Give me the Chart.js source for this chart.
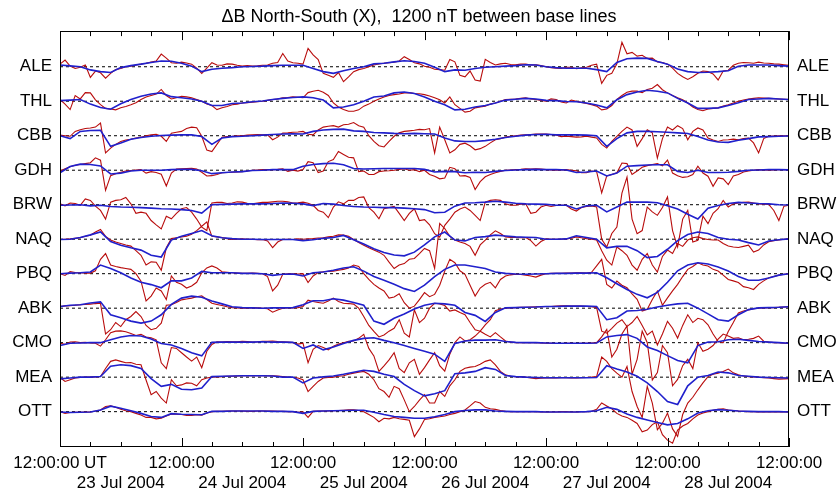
<!DOCTYPE html>
<html>
<head>
<meta charset="utf-8">
<script src="https://cdn.jsdelivr.net/npm/chart.js@4.4.1/dist/chart.umd.min.js"></script>
<style>
  html,body{margin:0;padding:0;background:#fff}
  #wrap{width:838px;height:493px}
</style>
</head>
<body>
<div id="wrap"><canvas id="chart" width="838" height="493"></canvas></div>
<script>
// stations, top to bottom; 1200 nT between base lines
const stations = ['ALE','THL','CBB','GDH','BRW','NAQ','PBQ','ABK','CMO','MEA','OTT'];
const spacing = 1200;

// hours since 22 Jul 2004 12:00 UT; observed read every hour, model every 2 h
const obsHours = Array.from({length:145}, (_,i) => i);
const modelHours = Array.from({length:73}, (_,i) => i*2);

// x ticks every 12 h, labels
const tickHours = [0,12,24,36,48,60,72,84,96,108,120,132,144];
const tickLabels = ['12:00:00 UT', ['', '23 Jul 2004'], '12:00:00', ['', '24 Jul 2004'], '12:00:00',
  ['', '25 Jul 2004'], '12:00:00', ['', '26 Jul 2004'], '12:00:00', ['', '27 Jul 2004'], '12:00:00',
  ['', '28 Jul 2004'], '12:00:00'];
const markHours = [0,6,12,18,24,30,36,42,48,54,60,66,72,78,84,90,96,102,108,114,120,126,132,138,144];

// observed dX (nT), red
const aleObs = [90,230,20,-60,-20,60,-370,-150,-210,-400,-230,-100,-60,0,20,60,90,120,160,200,
  440,300,140,120,160,130,90,-50,-230,-50,140,60,50,100,90,50,20,40,20,30,50,60,120,150,460,200,140,120,
  90,640,410,250,-230,-300,-370,-200,-520,-350,-170,-100,-60,0,60,100,120,140,160,200,
  350,250,140,100,20,-20,-90,-100,-120,250,170,-300,-350,-150,-460,-500,260,150,60,100,120,80,70,90,90,60,70,40,
  0,-30,-50,-60,-20,-20,-70,-40,-20,50,90,-580,-300,-230,100,850,450,500,370,400,
  290,300,170,150,90,-50,-230,-350,-440,-350,-230,-150,-170,-250,-460,-150,-120,50,120,150,140,120,160,130,120,100,90,70,50];
const thlObs = [60,-100,-290,200,80,300,290,50,-120,-250,-270,-300,-230,-180,-120,-50,60,150,200,250,
  410,200,80,120,170,150,120,60,0,-100,-150,-290,-230,-180,-120,-100,-60,-50,-30,-20,0,30,60,80,120,130,150,140,
  120,300,350,380,310,200,-60,-200,-290,-350,-350,-300,-170,-100,0,80,150,200,230,250,
  290,300,270,260,230,180,120,50,-60,150,-120,-250,-380,-350,-230,-200,-170,-100,-60,0,60,70,80,100,120,80,60,30,
  0,80,60,-30,-60,40,0,-40,-80,-120,-170,-300,-270,-150,60,200,310,350,350,300,
  410,450,580,400,290,200,120,50,-60,-200,-290,-330,-270,-250,-230,-170,-120,-60,0,40,80,100,120,110,100,90,80,70,60];
const cbbObs = [20,0,-20,150,210,250,270,300,440,-600,-430,-300,-200,-150,-120,-80,-50,0,30,50,
  -20,-200,90,120,150,250,300,280,-20,-500,-550,-300,-50,-30,-20,0,0,20,30,40,30,30,-140,-50,90,100,120,130,
  150,50,30,200,300,330,350,300,380,400,460,350,300,0,-200,-350,-390,-200,-20,100,
  150,170,190,220,210,250,-600,300,-140,-600,-490,-300,-260,-350,-490,-450,-370,-250,-140,-100,-50,-20,0,20,30,40,60,60,
  60,40,30,-30,-20,-30,-50,-40,-20,-50,-80,-300,-430,-200,-20,150,300,200,-370,-100,
  210,100,-780,-100,300,200,350,250,-140,150,270,200,-80,-150,-200,-150,-140,-120,-140,-100,-80,-250,-600,-100,-20,-10,0,0,0];
const gdhObs = [-30,50,120,170,200,230,260,430,350,-700,-190,-120,-70,-30,-10,10,20,-100,-50,-80,
  -140,-550,-100,40,50,60,70,40,-70,-200,-190,-150,-90,-80,-70,-60,-50,-30,0,10,20,20,20,30,50,-40,0,-30,
  20,300,260,-80,-30,300,370,650,550,450,430,-50,-30,-150,-150,-50,-30,-20,0,30,
  50,0,20,-50,0,-150,-210,-300,-270,100,50,-200,-190,-250,-670,-400,-230,-150,-90,-40,0,10,20,30,50,40,50,40,
  20,10,0,10,20,0,-20,-90,-90,-30,-50,-790,-200,-150,-90,250,230,-150,-30,100,
  160,200,230,150,350,-100,-190,-250,-230,-150,140,-100,-210,-560,-270,-300,-500,-200,-150,-60,-30,0,20,10,0,10,20,20,20];
const brwObs = [30,-40,60,40,-20,200,150,-50,-200,-500,90,150,170,250,30,-300,-260,-300,-550,-700,
  -840,-400,-490,-300,-140,-100,-260,-500,-780,-900,60,80,80,40,60,100,90,50,30,60,80,80,100,120,120,100,60,70,
  90,50,-20,-200,-260,-450,-80,100,30,150,150,250,270,-100,-260,-490,-140,-100,-60,-300,
  -550,-300,-140,-550,-520,-700,-1010,-1130,-720,-500,-260,-150,-80,-200,-370,-550,90,150,170,150,30,-20,-20,20,30,-300,-260,-80,
  -20,-60,-30,-20,-20,-150,-220,-100,-60,-40,-80,-1200,-1470,-1000,-780,400,960,-500,-1010,-900,
  -80,-250,-370,-100,270,-900,-1470,-500,-200,-1300,-1240,-400,-660,-300,-140,150,-80,30,60,80,90,60,30,20,10,-200,-550,-50,-20];
const naqObs = [-10,0,10,30,50,100,140,250,340,100,-30,-100,-150,-200,-240,-400,-560,-900,-790,-800,
  -1080,-300,20,50,80,100,170,300,450,600,100,80,60,20,-10,0,10,0,0,-20,-10,-60,-290,-100,-10,0,-10,10,
  0,10,20,40,50,80,100,150,140,100,-10,-120,-210,-300,-380,-450,-560,-800,-1020,-900,
  -850,-700,-670,-500,-320,-400,-1020,550,370,100,-30,-100,-150,-250,-560,-200,-30,150,290,200,80,60,60,50,60,-50,-240,-80,
  10,0,0,0,10,30,80,50,20,0,-30,-400,-730,-900,-270,-400,-560,-900,-1080,-700,
  -500,-900,-1140,-600,-380,-500,-150,-250,-30,50,80,20,-10,-30,-30,-150,-240,-270,-290,-250,-210,-450,-380,-200,-90,-50,-30,0,10];
const pbqObs = [0,-60,70,40,30,20,20,100,500,700,300,250,210,180,150,0,-260,-950,-780,-500,
  -600,-900,-80,-300,-370,-500,-430,-300,30,200,270,200,70,50,30,20,10,10,20,10,0,-100,-600,-400,-20,0,0,-10,
  0,-310,-80,40,70,80,90,120,150,200,300,250,0,-200,-370,-500,-600,-850,-810,-700,
  -1010,-1200,-1130,-900,-660,-800,-720,-400,90,500,380,100,-20,-400,-780,-500,-370,-300,-490,-200,-80,-40,-20,-30,-50,-80,-120,-50,
  0,10,10,10,20,20,30,30,20,50,270,500,-370,-500,-260,-400,-490,-700,-890,-1300,
  -1240,-900,-600,-1100,-840,-600,-370,-100,150,250,380,300,270,150,90,-50,-200,-250,-310,-450,-490,-550,-370,-250,-140,-100,-50,-20,0];
const abkObs = [60,80,90,100,120,130,140,160,170,-900,-750,-500,-640,-400,-290,-120,-290,-600,-750,-700,
  -520,100,120,200,290,320,350,400,430,300,170,130,90,50,20,10,0,0,10,10,0,-20,-140,-60,0,10,10,20,
  60,280,230,200,170,250,350,230,170,160,140,0,-290,-600,-810,-1000,-930,-800,-700,-400,
  -870,-1000,-60,-500,-350,0,170,150,90,-100,-60,-150,-230,-500,-750,-800,-580,-400,-90,-30,0,10,20,30,30,40,50,50,
  60,60,70,80,80,70,70,70,60,50,20,-800,-870,-700,-520,-400,-640,-500,-290,-600,
  -930,-800,-1280,-900,-460,-700,-1040,-600,-230,-500,-350,-400,-580,-900,-1160,-1200,-810,-500,-170,-100,-60,-20,0,10,20,20,30,40,50];
const cmoObs = [-20,-60,20,30,0,10,-10,-20,-120,100,350,400,410,380,320,250,290,200,170,100,
  -700,-900,-170,-200,-350,-500,-640,-500,-870,-300,-60,30,20,40,30,30,50,40,20,30,50,50,60,40,30,20,0,-50,
  -20,-700,-230,-100,-170,-250,-120,-50,0,50,60,150,290,-200,-460,-1000,-810,-600,-350,-900,
  -1040,-700,-580,-1100,-870,-600,-350,-800,-990,-400,0,200,60,100,230,400,290,200,350,200,60,20,0,0,0,0,0,-10,
  -20,-20,-30,-30,-20,-20,-30,-20,-20,-10,0,200,460,-500,-230,300,580,-1100,-580,400,
  0,-1300,-1040,-100,-350,-1500,-1280,-800,-580,-900,0,-300,-230,-100,120,300,230,150,170,100,120,150,230,50,20,0,0,-20,-20];
const meaObs = [-10,-150,-90,-30,-10,0,0,10,20,300,550,600,550,500,510,450,430,-100,-610,-500,
  -730,-900,-90,-300,-270,-200,-210,-300,-90,-30,0,10,20,30,30,40,50,50,50,50,60,50,50,40,20,0,-10,-30,
  -90,-500,-320,-150,-30,-10,0,30,50,100,140,170,200,100,-90,-400,-500,-700,-320,-400,
  -790,-1200,-1020,-800,-610,-900,-900,-500,-670,-300,-90,200,310,350,370,450,550,600,430,200,80,30,20,10,0,-30,-50,-40,
  -30,-30,-30,-20,-20,-30,-30,-20,-10,0,20,700,550,300,140,0,370,-500,-1020,-1400,
  -320,-900,-1830,-1600,-1250,-1800,-2060,-1300,-900,-700,-440,-200,20,100,140,200,280,150,80,40,20,10,0,-20,-30,-50,-70,-60,-50];
const ottObs = [0,-60,-30,-20,-20,-10,-10,20,60,180,200,150,80,30,0,-60,-120,-200,-200,-250,
  -230,-150,-80,-90,-100,-130,-130,-110,-120,-50,0,10,10,20,20,20,20,10,10,20,20,20,20,10,10,0,0,-20,
  -10,-200,10,20,20,20,30,40,50,60,60,40,0,-100,-200,-350,-230,-250,-200,-250,
  -270,-300,-870,-600,-270,-250,-200,-180,-150,-100,-60,0,60,200,350,300,150,100,80,40,10,0,0,0,0,0,0,-10,
  -10,-10,-10,0,0,-10,-10,0,0,10,80,300,200,100,-60,-150,-200,-300,-410,-700,
  -640,-450,-350,-800,-990,-1100,-640,-500,-410,-250,-120,-50,0,50,80,100,60,40,20,10,0,0,-10,-10,-10,-10,0,-10,-10];

// model dX (nT), blue
const aleModel = [60,30,0,-110,-170,-200,-30,40,90,150,200,190, 120,20,-170,-90,-50,-30,0,10,20,40,50,50,
  50,-60,-170,-230,-140,-60,0,100,120,170,210,180, 120,-20,-170,-110,-120,-60,-20,0,20,40,70,60,
  0,-30,-50,-50,-50,-100,-170,150,280,300,290,180, 90,-80,-170,-200,-190,-170,-140,20,60,60,60,40,20];
const thlModel = [20,40,60,-100,-220,-280,-90,60,170,250,290,160, 120,80,0,-150,-150,-80,-60,-20,10,60,100,130,
  150,120,40,-230,-200,-120,0,150,180,290,320,270, 150,0,-120,-300,-280,-200,-150,-60,40,70,100,80,
  30,20,-10,-20,-60,-130,-230,50,230,320,380,350, 290,100,-60,-250,-250,-230,-150,-50,60,80,100,80,60];
const cbbModel = [0,-100,150,180,190,-370,-250,-120,-60,-20,10,20, 30,30,-30,-300,-80,-30,-20,0,20,40,60,70,
  60,150,200,220,230,170,150,110,100,80,70,80, 70,60,-80,-180,-200,-200,-170,-120,-60,-20,20,40,
  50,30,30,30,20,0,-370,-100,100,150,150,140, 120,100,80,-30,-150,-220,-230,-160,-100,-40,-30,-20,-10];
const gdhModel = [-90,130,210,200,150,-130,-100,-30,0,0,0,20, 30,30,-20,-120,-90,-60,-50,-10,0,20,20,20,
  140,200,230,240,190,60,40,50,60,60,60,60, 30,-60,-40,-50,-90,-70,-80,-40,-10,10,20,30,
  20,20,10,-80,-60,-30,-200,-100,140,160,180,190, 190,-40,-80,0,-80,-80,-70,-40,0,10,20,20,10];
const brwModel = [-20,-10,0,-40,-20,-60,-80,-90,-100,-120,-140,-150, -170,-200,-290,0,10,20,30,30,30,40,60,50,
  30,-30,40,20,-30,-60,-80,-90,-100,-100,-120,-140, -170,-280,-260,-50,60,70,90,120,90,50,30,20,
  10,-20,-20,-150,-40,-20,-250,-80,90,90,90,70, -40,-150,-330,-500,-120,-30,40,80,60,40,30,0,-10];
const naqModel = [-10,0,60,150,250,-80,-210,-300,-380,-560,-620,-30, 100,200,300,120,50,20,0,0,-10,-10,-10,-10,
  -50,-20,30,60,130,-20,-170,-330,-460,-550,-580,-450, -200,80,250,-30,-60,60,90,140,110,80,70,60,
  0,0,10,120,60,0,-300,-250,-250,-400,-640,-600, -350,-50,160,250,200,60,0,-30,-120,-200,-60,-20,10];
const pbqModel = [0,20,30,60,300,180,30,-150,-300,-380,-490,-250, -250,-150,80,30,30,30,10,10,0,-60,-20,-10,
  -80,30,60,120,200,240,90,-100,-230,-370,-520,-620, -400,-100,150,300,300,240,180,60,10,-10,-20,-10,
  0,10,10,20,20,30,-140,-350,-550,-720,-840,-650, -300,100,300,380,340,230,90,-100,-230,-230,-150,-50,0];
const abkModel = [60,100,120,180,220,-230,-330,-450,-520,-450,-230,130, 350,420,380,250,150,50,20,10,0,10,10,20,
  120,260,260,330,280,200,100,-450,-560,-350,-200,-30, 100,170,150,100,-150,-250,-460,-150,10,20,30,40,
  60,60,70,70,70,60,-400,-330,-100,-80,-40,40, 100,150,170,0,-200,-400,-450,-230,-50,10,20,30,50];
const cmoModel = [-100,-20,-10,0,0,100,200,250,230,130,-30,-80, -200,-350,-460,10,20,20,20,20,30,20,20,10,
  -200,-80,-250,-150,-30,80,150,170,80,0,-100,-200, -300,-400,-650,-30,60,90,90,100,40,10,0,0,
  -10,-20,-20,-20,-20,-10,200,250,280,150,-150,-270, -450,-620,-700,-100,20,30,100,120,80,40,20,0,-20];
const meaModel = [-60,-30,0,0,20,380,430,400,300,-50,-320,-250, -420,-440,-380,20,30,40,50,50,50,40,0,0,
  -200,-30,10,40,100,170,240,200,100,20,-250,-470, -650,-580,-470,120,150,200,330,270,60,20,0,-10,
  -20,-20,-20,-20,-20,-10,400,280,180,30,-200,-500, -850,-950,-300,0,60,180,150,60,30,0,-10,-20,-30];
const ottModel = [-10,-30,-20,-10,60,190,120,30,-60,-170,-200,-70, -90,-100,-110,10,10,20,20,20,20,10,10,0,
  -60,10,20,30,40,50,50,-20,-100,-170,-200,-230, -230,-180,-100,0,40,60,60,20,10,0,0,0,
  -10,-10,-10,-10,0,30,150,80,-80,-200,-290,-380, -460,-410,-250,-50,30,70,50,20,10,0,0,0,-10];

const observed = [aleObs,thlObs,cbbObs,gdhObs,brwObs,naqObs,pbqObs,abkObs,cmoObs,meaObs,ottObs];
const modeled = [aleModel,thlModel,cbbModel,gdhModel,brwModel,naqModel,pbqModel,abkModel,cmoModel,meaModel,ottModel];

const yMax = 1240, yMin = -(stations.length-1)*spacing - 1230;
const RED = '#b80c0c', BLUE = '#2020cc';

Chart.defaults.font.family = '"Liberation Sans", Arial, Helvetica, sans-serif';
Chart.defaults.font.size = 17;
Chart.defaults.color = '#000';

const datasets = [];
stations.forEach((s,i)=>{
  const off = -i*spacing;
  datasets.push({label:s+' model', order:0, data: modelHours.map((h,j)=>({x:h, y:modeled[i][j]+off})),
    borderColor:BLUE, borderWidth:1.6, pointRadius:0, fill:false});
  datasets.push({label:s+' obs', order:1, data: obsHours.map((h,j)=>({x:h, y:observed[i][j]+off})),
    borderColor:RED, borderWidth:1.1, pointRadius:0, fill:false});
  datasets.push({label:s+' base', order:2, data:[{x:0,y:off},{x:144,y:off}],
    borderColor:'#000', borderWidth:1, borderDash:[3,3], pointRadius:0, fill:false});
});

// frame and inward tick marks
const framePlugin = {
  id:'frame',
  afterDatasetsDraw(chart){
    const {ctx, chartArea:{left,right,top,bottom}, scales:{x}} = chart;
    ctx.save();
    ctx.strokeStyle = '#000'; ctx.lineWidth = 1;
    ctx.strokeRect(Math.round(left)+0.5, Math.round(top)+0.5, Math.round(right-left)-1, Math.round(bottom-top)-1);
    markHours.forEach(h=>{
      const px = Math.round(x.getPixelForValue(h))+0.5;
      const len = h%24===0 ? 9 : 5;
      ctx.beginPath();
      ctx.moveTo(px, bottom); ctx.lineTo(px, bottom-len);
      ctx.moveTo(px, top); ctx.lineTo(px, top+len);
      ctx.stroke();
    });
    ctx.restore();
  }
};

const stationAxis = (pos, w) => ({
  position: pos, min:yMin, max:yMax,
  afterBuildTicks: s => { s.ticks = stations.map((_,i)=>({value:-i*spacing})); },
  afterFit: s => { s.width = w; },
  grid:{display:false, drawTicks:false}, border:{display:false},
  ticks:{autoSkip:false, padding:8, callback: v => stations[Math.round(-v/spacing)]}
});

new Chart(document.getElementById('chart'), {
  type:'line',
  data:{datasets},
  options:{
    responsive:false, animation:false, events:[],
    layout:{padding:0},
    plugins:{
      legend:{display:false}, tooltip:{enabled:false},
      title:{display:true, text:'\u0394B North-South (X),  1200 nT between base lines',
        font:{size:18, weight:'normal'}, color:'#000', padding:{top:6, bottom:3.5}}
    },
    scales:{
      x:{type:'linear', min:0, max:144,
        afterBuildTicks: s => { s.ticks = tickHours.map(v=>({value:v})); },
        afterFit: s => { s.height = 46; },
        grid:{display:false, drawTicks:false}, border:{display:false},
        ticks:{autoSkip:false, maxRotation:0, padding:6, callback: v => tickLabels[tickHours.indexOf(v)]}},
      y: stationAxis('left', 60),
      y2: stationAxis('right', 49)
    }
  },
  plugins:[framePlugin]
});
</script>
</body>
</html>
